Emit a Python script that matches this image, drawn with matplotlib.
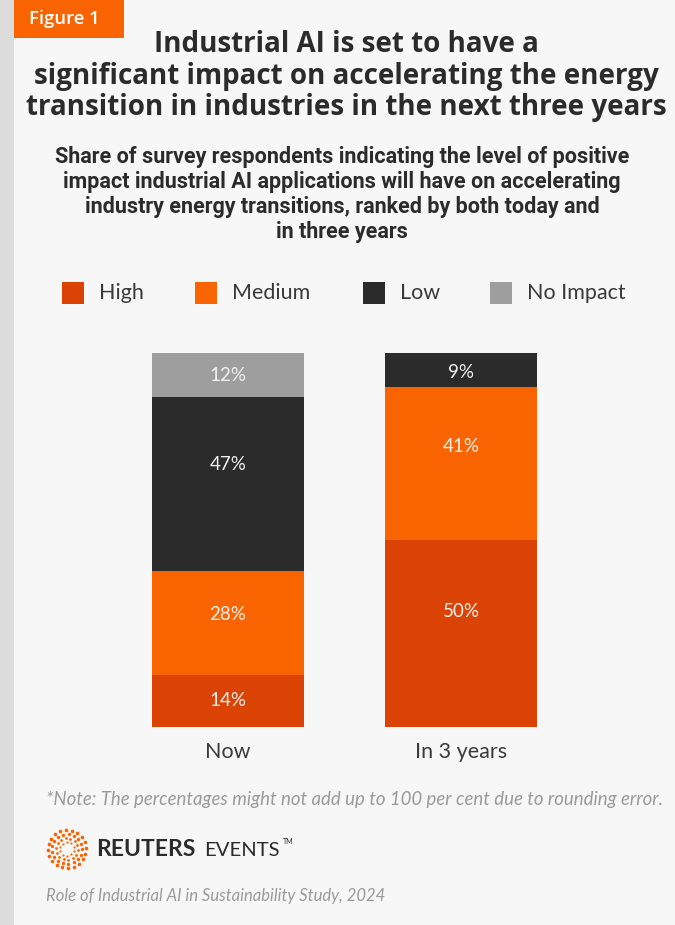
import numpy as np
import matplotlib.pyplot as plt
from matplotlib.patches import Rectangle

# Data
periods = ["Now", "In 3 years"]
levels = ["High", "Medium", "Low", "No Impact"]
high = [14, 50]
medium = [28, 41]
low = [47, 9]
no_impact = [12, 0]

colors = ["#db4304", "#fa6400", "#2b2b2b", "#9e9e9e"]
bg = "#f7f7f7"

W, H = 675, 925
fig = plt.figure(figsize=(W / 100, H / 100), dpi=100, facecolor=bg)


def fx(px):
    return px / W


def fy(py):
    return 1 - py / H


# left grey strip and "Figure 1" tag
fig.patches.append(Rectangle((0, 0), fx(14), 1, transform=fig.transFigure,
                             facecolor="#dcdcdc", edgecolor="none"))
fig.patches.append(Rectangle((fx(14), fy(38)), fx(110), fy(0) - fy(38),
                             transform=fig.transFigure, facecolor="#fa6400",
                             edgecolor="none"))
fig.text(fx(29), fy(19), "Figure 1", color="white", fontsize=13.3,
         fontweight="semibold", family="Open Sans", va="center", ha="left")

# title
title_lines = ["Industrial AI is set to have a",
               "significant impact on accelerating the energy",
               "transition in industries in the next three years"]
for i, line in enumerate(title_lines):
    fig.text(fx(346), fy(45 + 31.5 * i), line, fontsize=20, fontweight="bold",
             family="Open Sans", color="#2b2b2b", ha="center", va="center")

# subtitle
sub_lines = ["Share of survey respondents indicating the level of positive",
             "impact industrial AI applications will have on accelerating",
             "industry energy transitions, ranked by both today and",
             "in three years"]
for i, line in enumerate(sub_lines):
    fig.text(fx(342), fy(157 + 25 * i), line, fontsize=15.5, fontweight="bold",
             family="Roboto", color="#2b2b2b", ha="center", va="center")

# legend
leg_x = [62, 195, 363, 490]
for x, lab, c in zip(leg_x, levels, colors):
    fig.patches.append(Rectangle((fx(x), fy(304)), fx(22), fy(282) - fy(304),
                                 transform=fig.transFigure, facecolor=c,
                                 edgecolor="none"))
    fig.text(fx(x + 37), fy(293), lab, fontsize=15.5, family="Lato",
             color="#3a3a3a", ha="left", va="center")

# stacked bars, normalised to 100
data = np.array([high, medium, low, no_impact], dtype=float)
shares = data / data.sum(axis=0) * 100

ax = fig.add_axes([fx(152), fy(727), fx(385), fy(353) - fy(727)])
ax.set_facecolor(bg)
x = np.arange(len(periods))
bottom = np.zeros(len(periods))
for vals, shr, c in zip(data, shares, colors):
    ax.bar(x, shr, bottom=bottom, width=0.652, color=c, edgecolor="none")
    for xi, v, s, b in zip(x, vals, shr, bottom):
        if v > 0:
            # labels sit a bit above the segment middle, as in the original
            ax.text(xi, b + s - (0.34 * s + 2.1), f"{v:.0f}%", ha="center",
                    va="center", fontsize=13.5, family="Lato", color="#f0f0f0")
    bottom += shr

ax.set_xlim(-0.326, 1.326)
ax.set_ylim(0, 100)
ax.set_xticks(x, periods)
ax.tick_params(axis="x", length=0, pad=11, labelsize=15.5, labelcolor="#3a3a3a")
for lbl in ax.get_xticklabels():
    lbl.set_family("Lato")
ax.set_yticks([])
for s in ax.spines.values():
    s.set_visible(False)

# note
fig.text(fx(46), fy(800),
         "*Note: The percentages might not add up to 100 per cent due to rounding error.",
         fontsize=13.4, family="Lato", style="italic", color="#9a9a9a",
         ha="left", va="center")

# logo: rings of dots
lax = fig.add_axes([fx(44), fy(872), fx(46), fy(826) - fy(872)])
lax.set_xlim(-23, 23)
lax.set_ylim(-23, 23)
lax.set_aspect("equal")
lax.axis("off")
rings = [(7, 10, 2.5), (11, 14, 4), (15, 17, 6), (19, 20, 7)]
for r, n, s in rings:
    ang = np.linspace(0, 2 * np.pi, n, endpoint=False) + (r % 4) * 0.12
    lax.scatter(r * np.cos(ang), r * np.sin(ang), s=s, color="#fa6400",
                linewidths=0)

fig.text(fx(96), fy(850), "REUTERS", fontsize=16.5, fontweight="bold",
         family="Lato", color="#2b2b2b", ha="left", va="center")
fig.text(fx(204), fy(850), "EVENTS", fontsize=14.6,
         family="Lato", color="#2b2b2b", ha="left", va="center")
fig.text(fx(283), fy(842), "TM", fontsize=5,
         family="Lato", color="#2b2b2b", ha="left", va="center")

# source
fig.text(fx(46), fy(896), "Role of Industrial AI in Sustainability Study, 2024",
         fontsize=12, family="Lato", style="italic", color="#9a9a9a",
         ha="left", va="center")

fig.savefig("out.png", dpi=100, facecolor=bg)
